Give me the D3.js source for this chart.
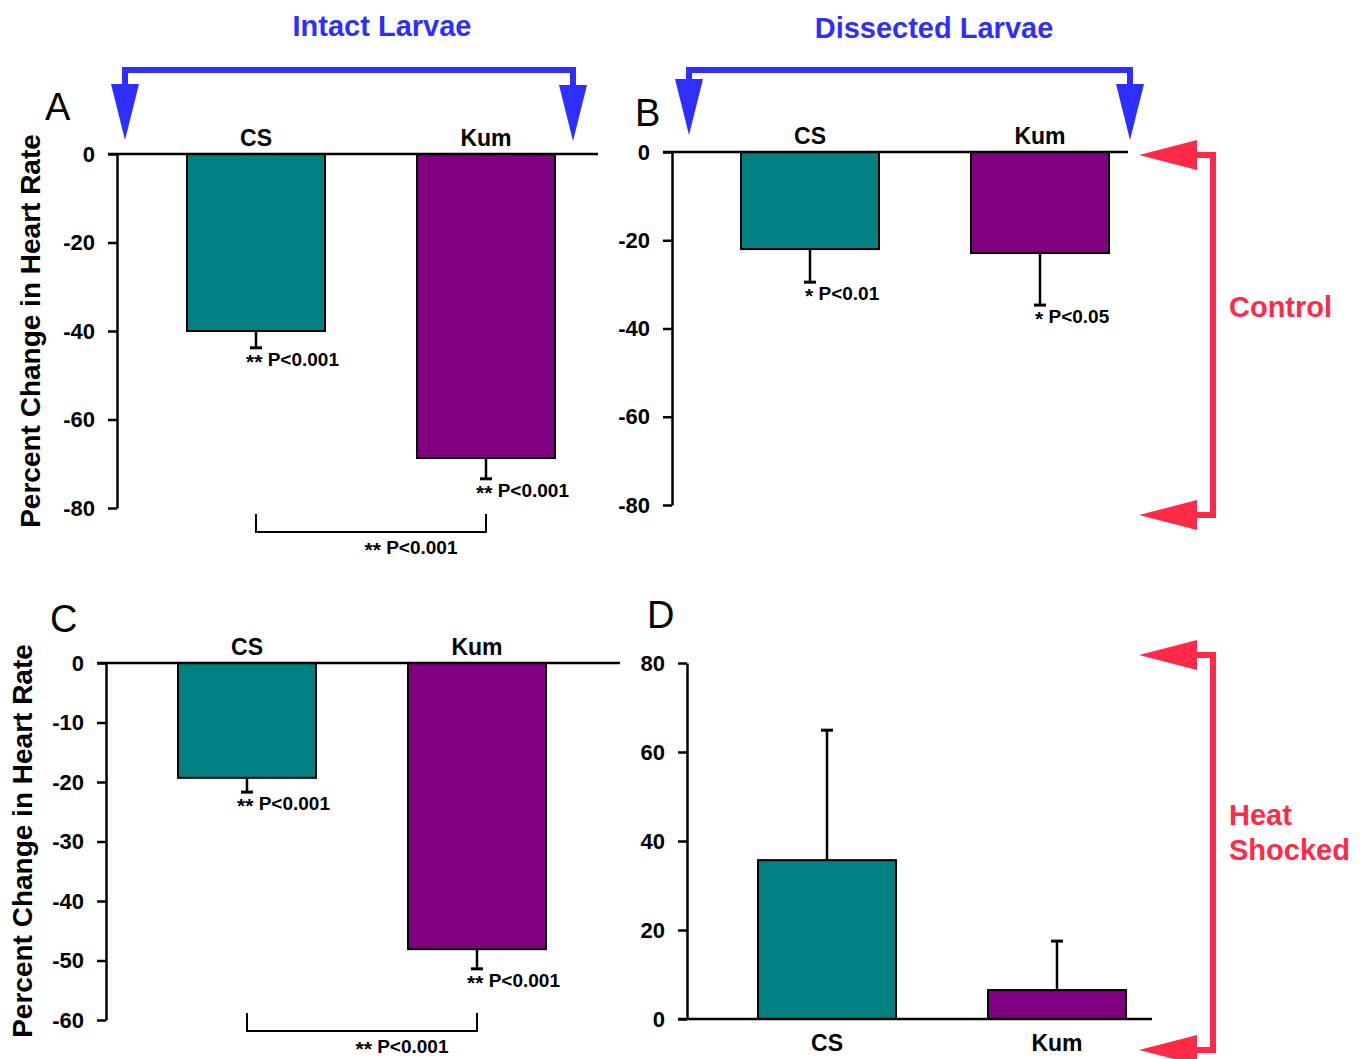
<!DOCTYPE html>
<html>
<head>
<meta charset="utf-8">
<script src="https://cdn.jsdelivr.net/npm/d3@7"></script>
<style>
body { margin: 0; background: #fff; }
svg text { font-family: "Liberation Sans", Arial, sans-serif; }
</style>
</head>
<body>
<div id="chart"></div>
<script>
var groups = ["CS", "Kum"];
var colors = ["#008080", "#800080"];

// A: intact larvae, control
var mean_a = [-40.0, -68.7];
var sem_a = [3.8, 4.7];
var p_a = ["** P<0.001", "** P<0.001"];

// B: dissected larvae, control
var mean_b = [-22.0, -22.9];
var sem_b = [7.5, 11.8];
var p_b = ["* P<0.01", "* P<0.05"];

// C: intact larvae, heat shocked
var mean_c = [-19.3, -48.1];
var sem_c = [2.4, 3.3];
var p_c = ["** P<0.001", "** P<0.001"];

// D: dissected larvae, heat shocked
var mean_d = [35.7, 6.5];
var sem_d = [29.2, 11.0];

var ticks_ab = [0, -20, -40, -60, -80];
var ticks_c = [0, -10, -20, -30, -40, -50, -60];
var ticks_d = [0, 20, 40, 60, 80];

var between_p = "** P<0.001";
var ylabel = "Percent Change in Heart Rate";

var blue = "#2e2eff", red = "#ff2a47";

var svg = d3.select("#chart")
    .append("svg")
    .attr("width", 1369)
    .attr("height", 1059);

var panels = [
    {name: "A", means: mean_a, sems: sem_a, p: p_a, ticks: ticks_ab, domain: [-80, 0],
     left: 117, right: 598, top: 154, bottom: 508, off: 24, bracket: 514, ylab: [30, 331], letter: [45, 120]},
    {name: "B", means: mean_b, sems: sem_b, p: p_b, ticks: ticks_ab, domain: [-80, 0],
     left: 672, right: 1128, top: 152, bottom: 505, off: 23, bracket: null, letter: [635, 126]},
    {name: "C", means: mean_c, sems: sem_c, p: p_c, ticks: ticks_c, domain: [-60, 0],
     left: 106, right: 620, top: 663, bottom: 1020, off: 26, bracket: 1013, ylab: [22, 841], letter: [50, 632]},
    {name: "D", means: mean_d, sems: sem_d, p: null, ticks: ticks_d, domain: [0, 80],
     left: 687, right: 1152, top: 663, bottom: 1019, off: 25, bracket: null, letter: [647, 628]}
];

// p-value label: stars drawn a bit larger and lower, like the original
function p_text(sel, s) {
    var k = s.indexOf(" ");
    sel.attr("font-size", 19).attr("font-weight", "bold");
    sel.append("tspan").attr("font-size", 21).attr("dy", 3).text(s.slice(0, k));
    sel.append("tspan").attr("dy", -3).text(s.slice(k));
}

function draw_panel(p) {
    var g = svg.append("g");
    var y = d3.scaleLinear().domain(p.domain).range([p.bottom, p.top]);
    var x = d3.scaleBand()
	.domain(groups)
	.range([p.left + p.off, p.left + p.off + 460])
	.paddingInner(0.4)
	.paddingOuter(0.2);
    var y0 = y(0);

    // bars
    g.selectAll("rect")
	.data(groups)
	.enter()
	.append("rect")
	.attr("x", function(d) { return x(d); })
	.attr("width", x.bandwidth())
	.attr("y", function(d, i) { return Math.min(y(p.means[i]), y0); })
	.attr("height", function(d, i) { return Math.abs(y(p.means[i]) - y0); })
	.attr("fill", function(d, i) { return colors[i]; })
	.attr("stroke", "#000")
	.attr("stroke-width", 2);

    // one-sided error bars
    groups.forEach(function(d, i) {
	var cx = x(d) + x.bandwidth() / 2;
	var m = p.means[i];
	var e = m < 0 ? m - p.sems[i] : m + p.sems[i];
	g.append("line")
	    .attr("x1", cx).attr("x2", cx)
	    .attr("y1", y(m)).attr("y2", y(e))
	    .attr("stroke", "#000").attr("stroke-width", 2.5);
	g.append("line")
	    .attr("x1", cx - 6).attr("x2", cx + 6)
	    .attr("y1", y(e)).attr("y2", y(e))
	    .attr("stroke", "#000").attr("stroke-width", 3);
	if (p.p) {
	    g.append("text")
		.attr("x", cx - (p.p[i].indexOf("**") === 0 ? 10 : 5))
		.attr("y", y(e) + 18)
		.call(p_text, p.p[i]);
	}
	// category label
	g.append("text")
	    .attr("x", cx)
	    .attr("y", p.domain[0] < 0 ? y0 - 8 : y0 + 32)
	    .attr("text-anchor", "middle")
	    .attr("font-size", 23)
	    .attr("font-weight", "bold")
	    .text(d);
    });

    // y axis, plain hyphen for negatives
    var ax = g.append("g")
	.attr("transform", "translate(" + p.left + ",0)")
	.call(d3.axisLeft(y).tickValues(p.ticks).tickFormat(String)
	      .tickSize(9).tickSizeOuter(0).tickPadding(13));
    ax.attr("font-family", null).attr("font-size", 22).attr("font-weight", "bold");
    ax.selectAll("path, line").attr("stroke", "#000").attr("stroke-width", 2.5);
    ax.selectAll("text").attr("fill", "#000");

    // zero line
    g.append("line")
	.attr("x1", p.left - 9).attr("x2", p.right)
	.attr("y1", y0).attr("y2", y0)
	.attr("stroke", "#000").attr("stroke-width", 2.5);

    // between-group bracket
    if (p.bracket) {
	var c0 = x(groups[0]) + x.bandwidth() / 2;
	var c1 = x(groups[1]) + x.bandwidth() / 2;
	g.append("path")
	    .attr("d", "M" + c0 + "," + p.bracket + "V" + (p.bracket + 18) +
		  "H" + c1 + "V" + p.bracket)
	    .attr("fill", "none")
	    .attr("stroke", "#000")
	    .attr("stroke-width", 2);
	g.append("text")
	    .attr("x", (c0 + c1) / 2 + 40)
	    .attr("y", p.bracket + 40)
	    .attr("text-anchor", "middle")
	    .call(p_text, between_p);
    }

    if (p.ylab) {
	g.append("text")
	    .attr("transform", "translate(" + p.ylab[0] + "," + p.ylab[1] + ") rotate(-90)")
	    .attr("text-anchor", "middle")
	    .attr("dominant-baseline", "central")
	    .attr("font-size", 28)
	    .attr("font-weight", "bold")
	    .text(ylabel);
    }

    g.append("text")
	.attr("x", p.letter[0]).attr("y", p.letter[1])
	.attr("font-size", 38)
	.text(p.name);
}

panels.forEach(draw_panel);

// blue arrows over the top row
var tops = [
    {label: "Intact Larvae", cx: 382, ty: 36, xs: [125, 573], tips: [140, 141]},
    {label: "Dissected Larvae", cx: 934, ty: 38, xs: [689, 1130], tips: [135, 140]}
];
tops.forEach(function(t) {
    var g = svg.append("g");
    g.append("path")
	.attr("d", "M" + t.xs[0] + ",92V70H" + t.xs[1] + "V92")
	.attr("fill", "none")
	.attr("stroke", blue)
	.attr("stroke-width", 6);
    t.xs.forEach(function(xx, i) {
	g.append("path")
	    .attr("d", "M" + (xx - 14) + "," + (t.tips[i] - 56) + "L" + (xx + 14) + "," +
		  (t.tips[i] - 56) + "L" + xx + "," + t.tips[i] + "Z")
	    .attr("fill", blue);
    });
    g.append("text")
	.attr("x", t.cx).attr("y", t.ty)
	.attr("text-anchor", "middle")
	.attr("font-size", 29)
	.attr("font-weight", "bold")
	.attr("fill", blue)
	.text(t.label);
});

// red brackets on the right
var sides = [
    {lines: ["Control"], y1: 155, y2: 515, ty: 317},
    {lines: ["Heat", "Shocked"], y1: 655, y2: 1050, ty: 825}
];
sides.forEach(function(s) {
    var g = svg.append("g");
    g.append("path")
	.attr("d", "M1194," + s.y1 + "H1213V" + s.y2 + "H1194")
	.attr("fill", "none")
	.attr("stroke", red)
	.attr("stroke-width", 6);
    [s.y1, s.y2].forEach(function(yy) {
	g.append("path")
	    .attr("d", "M1139," + yy + "L1197," + (yy - 15) + "L1197," + (yy + 15) + "Z")
	    .attr("fill", red);
    });
    s.lines.forEach(function(l, i) {
	g.append("text")
	    .attr("x", 1229).attr("y", s.ty + i * 35)
	    .attr("font-size", 29)
	    .attr("font-weight", "bold")
	    .attr("fill", red)
	    .text(l);
    });
});
</script>
</body>
</html>
